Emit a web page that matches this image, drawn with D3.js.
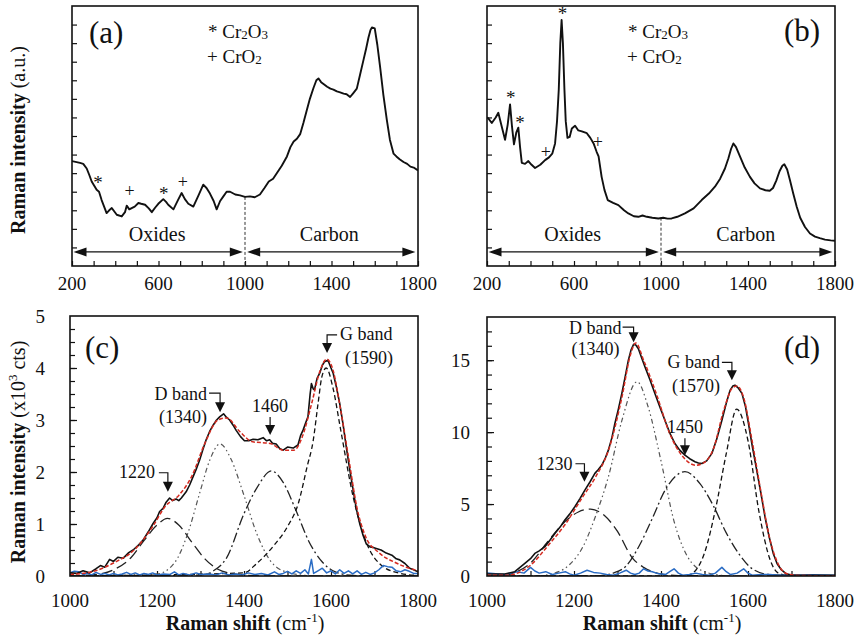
<!DOCTYPE html>
<html>
<head>
<meta charset="utf-8">
<script src="https://cdn.jsdelivr.net/npm/d3@7"></script>
<style>
  body { margin: 0; background: #fff; }
  svg text { font-family: 'Liberation Serif', 'Times New Roman', serif; fill: #111; }
</style>
</head>
<body>
<svg id="chart" width="855" height="639"></svg>
<script>
// ---- data ----
// (a) full spectrum, arbitrary units
const spectrumA = [[200,5.65],[237,5.55],[252,5.5],[268,5.25],[280,4.9],[291,4.55],[314,4.1],[325,4.0],[337,3.55],[360,2.85],[372,3.0],[384,3.12],[395,2.95],[407,2.76],[430,2.67],[445,2.9],[453,3.25],[465,3.05],[476,3.12],[490,3.2],[507,3.39],[520,3.35],[538,3.3],[555,3.1],[569,2.9],[585,3.15],[599,3.35],[622,3.6],[635,3.45],[645,3.3],[669,3.05],[690,3.55],[707,3.93],[722,3.6],[738,3.35],[761,3.2],[785,3.8],[807,4.38],[822,4.2],[838,3.9],[855,3.5],[869,3.05],[885,3.5],[900,3.75],[915,4.0],[931,4.0],[955,3.85],[977,3.8],[1000,3.72],[1023,3.75],[1045,3.7],[1069,3.85],[1090,4.2],[1110,4.55],[1130,4.7],[1150,5.05],[1170,5.4],[1194,5.9],[1210,6.4],[1225,6.7],[1240,6.85],[1255,7.1],[1270,7.7],[1286,8.4],[1300,9.0],[1317,9.6],[1330,10.0],[1340,10.1],[1352,9.9],[1363,9.8],[1380,9.65],[1395,9.55],[1409,9.5],[1425,9.4],[1440,9.35],[1456,9.28],[1470,9.25],[1486,9.1],[1500,9.3],[1517,9.55],[1532,10.3],[1548,11.1],[1560,11.7],[1571,12.3],[1580,12.7],[1587,12.85],[1600,12.8],[1612,11.9],[1625,10.7],[1640,9.2],[1656,7.85],[1670,6.8],[1687,6.05],[1700,5.9],[1715,5.75],[1733,5.6],[1750,5.5],[1765,5.35],[1780,5.3],[1800,5.15]]
// (b) full spectrum, arbitrary units
const spectrumB = [[200,8.0],[206,7.95],[222,7.7],[240,8.0],[252,8.25],[268,7.5],[283,6.8],[295,7.6],[306,8.7],[315,7.5],[324,6.55],[335,7.2],[344,7.45],[352,6.4],[360,5.55],[375,5.5],[390,5.65],[405,5.45],[421,5.28],[445,5.45],[467,5.7],[485,5.85],[500,6.05],[513,6.6],[522,7.8],[530,9.5],[537,12.0],[543,13.25],[549,12.0],[556,9.5],[562,7.8],[570,6.9],[580,6.95],[590,7.4],[605,7.55],[620,7.3],[636,7.25],[659,7.15],[675,6.9],[690,6.6],[704,6.15],[713,5.9],[727,4.8],[740,4.1],[755,3.55],[780,3.4],[804,3.28],[830,3.0],[850,2.83],[875,2.68],[896,2.65],[915,2.72],[935,2.65],[960,2.6],[988,2.56],[1010,2.6],[1030,2.55],[1049,2.56],[1075,2.65],[1110,2.83],[1150,3.1],[1187,3.55],[1220,3.9],[1248,4.27],[1272,4.7],[1294,5.25],[1310,5.8],[1322,6.3],[1333,6.6],[1345,6.4],[1364,5.88],[1385,5.3],[1409,4.8],[1430,4.45],[1455,4.18],[1480,4.08],[1500,4.05],[1515,4.2],[1530,4.6],[1545,5.1],[1558,5.4],[1567,5.48],[1580,5.2],[1593,4.62],[1608,3.9],[1624,3.19],[1640,2.6],[1662,2.1],[1685,1.75],[1708,1.58],[1730,1.5],[1754,1.42],[1780,1.38],[1800,1.36]]

// peak markers: [x, y, symbol]
const markersA = [[320,4.62,'*'],[466,4.05,'+'],[624,4.05,'*'],[712,4.55,'+']]
const markersB = [[547,13.75,'*'],[309,9.2,'*'],[352,7.84,'*'],[470,6.12,'+'],[709,6.66,'+']]

// (c) measured, fit and components (x10^3 cts)
const measuredC = [[1000,0.06],[1015,0.05],[1030,0.1],[1045,0.06],[1060,0.14],[1070,0.2],[1080,0.17],[1091,0.32],[1100,0.28],[1110,0.36],[1122,0.34],[1135,0.45],[1145,0.5],[1158,0.6],[1168,0.69],[1180,0.85],[1191,1.01],[1200,1.12],[1206,1.24],[1214,1.3],[1221,1.42],[1229,1.5],[1236,1.45],[1244,1.48],[1250,1.45],[1256,1.5],[1267,1.62],[1275,1.75],[1283,1.91],[1290,2.05],[1298,2.23],[1305,2.42],[1313,2.62],[1321,2.78],[1329,2.9],[1337,3.0],[1344,3.06],[1353,3.12],[1360,3.05],[1367,3.0],[1375,2.9],[1382,2.8],[1392,2.68],[1401,2.6],[1411,2.6],[1421,2.63],[1432,2.62],[1444,2.66],[1452,2.6],[1459,2.62],[1466,2.55],[1474,2.54],[1482,2.45],[1490,2.42],[1500,2.48],[1513,2.46],[1524,2.52],[1530,2.7],[1536,2.81],[1542,2.95],[1547,3.06],[1552,3.5],[1555,3.7],[1559,3.6],[1562,3.58],[1568,3.8],[1574,3.9],[1580,4.05],[1585,4.12],[1593,4.15],[1600,4.0],[1605,3.9],[1612,3.65],[1620,3.32],[1628,2.9],[1635,2.49],[1643,2.05],[1651,1.65],[1658,1.3],[1666,1.01],[1673,0.8],[1681,0.62],[1690,0.56],[1697,0.55],[1704,0.53],[1715,0.5],[1727,0.44],[1740,0.4],[1750,0.33],[1758,0.31],[1770,0.24],[1781,0.15],[1790,0.12],[1800,0.08]]
const fitC = [[1000,0.03],[1050,0.08],[1100,0.25],[1150,0.52],[1190,0.95],[1220,1.35],[1250,1.55],[1280,1.92],[1310,2.55],[1340,3.0],[1360,3.04],[1390,2.78],[1420,2.58],[1460,2.55],[1490,2.42],[1515,2.42],[1535,2.7],[1555,3.3],[1575,3.95],[1590,4.17],[1605,3.95],[1620,3.3],[1640,2.3],[1660,1.3],[1680,0.75],[1710,0.45],[1750,0.25],[1800,0.1]]
const peakC1220 = [[1000,0.0],[1050,0.02],[1100,0.12],[1140,0.35],[1170,0.68],[1200,0.98],[1224,1.11],[1250,0.98],[1280,0.65],[1310,0.33],[1340,0.13],[1370,0.05],[1400,0.02],[1450,0.0],[1800,0.0]]
const peakC1340 = [[1000,0.0],[1200,0.04],[1240,0.25],[1270,0.8],[1300,1.65],[1320,2.2],[1345,2.54],[1370,2.25],[1400,1.55],[1430,0.8],[1460,0.3],[1500,0.07],[1550,0.01],[1800,0.0]]
const peakC1460 = [[1000,0.0],[1300,0.02],[1330,0.1],[1360,0.35],[1400,1.2],[1430,1.7],[1463,2.02],[1490,1.8],[1520,1.25],[1550,0.65],[1580,0.27],[1610,0.08],[1650,0.01],[1800,0.0]]
const peakC1590 = [[1000,0.0],[1400,0.06],[1429,0.24],[1470,0.6],[1500,0.95],[1525,1.4],[1545,2.1],[1559,2.6],[1570,3.3],[1579,3.83],[1589,4.0],[1605,3.6],[1621,2.87],[1651,1.52],[1682,0.63],[1720,0.18],[1760,0.05],[1800,0.01]]
const residualC = [[1000,0.06],[1010,0.09],[1020,0.08],[1030,0.03],[1040,0.05],[1050,0.02],[1060,0.07],[1070,0.03],[1080,0.05],[1090,0.02],[1100,0.05],[1110,0.02],[1120,0.04],[1130,0.07],[1140,0.03],[1150,0.06],[1160,0.02],[1170,0.05],[1180,0.03],[1190,0.06],[1200,0.02],[1215,0.04],[1230,0.03],[1240,0.08],[1250,0.02],[1260,0.05],[1275,0.02],[1290,0.06],[1300,0.03],[1320,0.04],[1335,0.02],[1350,0.06],[1365,0.02],[1380,0.04],[1395,0.02],[1410,0.06],[1425,0.03],[1440,0.05],[1455,0.02],[1470,0.08],[1480,0.03],[1490,0.05],[1500,0.09],[1510,0.04],[1520,0.1],[1530,0.05],[1540,0.12],[1548,0.04],[1555,0.32],[1560,0.05],[1570,0.1],[1580,0.15],[1590,0.06],[1600,0.1],[1610,0.04],[1620,0.12],[1630,0.05],[1640,0.1],[1650,0.04],[1660,0.1],[1670,0.03],[1680,0.07],[1690,0.03],[1700,0.06],[1710,0.12],[1720,0.2],[1730,0.18],[1740,0.17],[1750,0.1],[1760,0.08],[1770,0.12],[1780,0.09],[1790,0.05],[1800,0.05]]

// (d) measured, fit and components (x10^3 cts)
const measuredD = [[1000,0.14],[1041,0.14],[1064,0.3],[1087,0.88],[1100,1.2],[1110,1.57],[1120,1.75],[1133,2.04],[1145,2.5],[1156,2.96],[1168,3.4],[1179,3.89],[1190,4.3],[1202,4.81],[1214,5.4],[1225,5.97],[1237,6.55],[1248,7.13],[1256,7.4],[1264,7.71],[1272,8.2],[1279,8.75],[1287,9.6],[1294,10.6],[1302,11.6],[1310,12.69],[1318,13.9],[1325,15.0],[1331,15.7],[1337,16.1],[1342,16.05],[1348,15.8],[1355,15.2],[1363,14.54],[1375,13.6],[1386,12.69],[1398,11.7],[1409,10.83],[1420,9.95],[1432,9.21],[1443,8.75],[1455,8.4],[1466,8.15],[1478,7.94],[1486,7.85],[1494,7.82],[1505,8.0],[1517,8.52],[1528,9.5],[1540,10.83],[1550,12.0],[1559,12.92],[1565,13.2],[1570,13.26],[1578,13.05],[1586,12.69],[1594,11.8],[1601,10.6],[1610,9.0],[1620,7.36],[1630,5.7],[1639,4.12],[1648,2.8],[1658,1.57],[1667,0.85],[1677,0.42],[1688,0.15],[1700,0.07],[1750,0.05],[1800,0.05]]
const fitD = [[1000,0.05],[1050,0.06],[1070,0.2],[1100,0.75],[1140,2.1],[1180,3.6],[1220,5.5],[1250,6.9],[1280,8.8],[1310,12.4],[1330,15.4],[1342,16.2],[1360,15.0],[1390,12.6],[1420,9.9],[1450,8.3],[1480,7.7],[1500,7.9],[1520,8.8],[1545,11.6],[1565,13.1],[1575,13.2],[1590,12.4],[1610,9.3],[1630,5.8],[1650,2.6],[1670,0.8],[1690,0.15],[1720,0.03],[1800,0.02]]
const peakD1230 = [[1000,0.0],[1040,0.02],[1060,0.2],[1100,0.9],[1140,2.4],[1180,3.8],[1210,4.45],[1238,4.65],[1270,4.2],[1300,3.1],[1333,1.3],[1360,0.6],[1400,0.15],[1440,0.03],[1800,0.0]]
const peakD1340 = [[1000,0.0],[1120,0.02],[1150,0.15],[1190,0.8],[1220,2.0],[1250,4.2],[1280,7.0],[1310,10.8],[1345,13.5],[1370,11.8],[1400,8.0],[1430,3.8],[1460,1.4],[1500,0.3],[1550,0.03],[1800,0.0]]
const peakD1450 = [[1000,0.0],[1260,0.03],[1290,0.2],[1320,0.7],[1350,2.1],[1380,4.0],[1410,6.0],[1455,7.25],[1490,6.4],[1520,4.9],[1550,3.0],[1580,1.5],[1610,0.5],[1650,0.1],[1800,0.0]]
const peakD1570 = [[1000,0.0],[1440,0.01],[1460,0.05],[1480,0.4],[1500,1.6],[1525,4.6],[1550,8.5],[1574,11.6],[1600,9.4],[1625,4.5],[1650,1.2],[1670,0.2],[1700,0.02],[1800,0.0]]
const residualD = [[1000,0.2],[1020,0.15],[1040,0.1],[1055,0.2],[1070,0.3],[1085,0.2],[1100,0.6],[1110,0.35],[1120,0.2],[1135,0.3],[1150,0.1],[1165,0.2],[1180,0.3],[1190,0.15],[1200,0.05],[1215,0.2],[1230,0.4],[1245,0.25],[1260,0.2],[1275,0.1],[1290,0.05],[1305,0.2],[1320,0.4],[1330,0.2],[1340,0.1],[1350,0.2],[1360,0.5],[1370,0.35],[1380,0.3],[1395,0.15],[1410,0.1],[1420,0.3],[1430,0.5],[1440,0.2],[1450,0.05],[1465,0.1],[1480,0.2],[1495,0.1],[1510,0.05],[1525,0.2],[1540,0.6],[1550,0.3],[1560,0.1],[1575,0.2],[1590,0.5],[1600,0.2],[1610,0.05],[1630,0.1],[1650,0.1],[1670,0.05],[1700,0.05],[1750,0.08],[1800,0.05]]

// axis ticks
const topXLabels = [200, 600, 1000, 1400, 1800]
const bottomXLabels = [1000, 1200, 1400, 1600, 1800]
const yLabelsC = [0, 1, 2, 3, 4, 5]
const yLabelsD = [0, 5, 10, 15]

// region arrows and dividing line
const oxidesRange = [207, 990]
const carbonRange = [1010, 1788]
const boundary = 1000

const svg = d3.select('#chart')

function makePanel(cfg) {
  const x = d3.scaleLinear().domain(cfg.xDomain).range([cfg.left, cfg.right])
  const y = d3.scaleLinear().domain(cfg.yDomain).range([cfg.bottom, cfg.top])
  const g = svg.append('g')

  const clipId = 'clip-' + cfg.id
  g.append('clipPath').attr('id', clipId)
    .append('rect')
    .attr('x', cfg.left).attr('y', cfg.top)
    .attr('width', cfg.right - cfg.left).attr('height', cfg.bottom - cfg.top)

  // inner ticks
  g.append('g')
    .attr('transform', `translate(0,${cfg.bottom})`)
    .call(d3.axisBottom(x).tickValues(cfg.xTicks).tickSize(-5).tickFormat(''))
    .call(a => a.select('.domain').remove())
  g.append('g')
    .attr('transform', `translate(${cfg.left},0)`)
    .call(d3.axisLeft(y).tickValues(cfg.yTicks).tickSize(-5).tickFormat(''))
    .call(a => a.select('.domain').remove())
  if (cfg.yMajor) {
    g.append('g')
      .attr('transform', `translate(${cfg.left},0)`)
      .call(d3.axisLeft(y).tickValues(cfg.yMajor).tickSize(-7).tickFormat(''))
      .call(a => a.select('.domain').remove())
  }
  g.selectAll('.tick line').attr('stroke', '#111').attr('stroke-width', 1.2)

  // tick labels
  g.append('g').selectAll('text')
    .data(cfg.xLabels).join('text')
    .attr('x', d => x(d)).attr('y', cfg.bottom + cfg.xLabelGap)
    .attr('text-anchor', 'middle').attr('font-size', 19)
    .text(d => d)
  if (cfg.yLabels) {
    g.append('g').selectAll('text')
      .data(cfg.yLabels).join('text')
      .attr('x', cfg.left - cfg.yLabelGap).attr('y', d => y(d))
      .attr('dy', '0.35em')
      .attr('text-anchor', 'end').attr('font-size', 19)
      .text(d => d)
  }

  const plot = g.append('g').attr('clip-path', `url(#${clipId})`)

  // frame
  g.append('rect')
    .attr('x', cfg.left).attr('y', cfg.top)
    .attr('width', cfg.right - cfg.left).attr('height', cfg.bottom - cfg.top)
    .attr('fill', 'none').attr('stroke', '#111').attr('stroke-width', 1.6)

  // panel letter
  g.append('text')
    .attr('x', cfg.letterPos[0]).attr('y', cfg.letterPos[1])
    .attr('font-size', 31).text(cfg.letter)

  return { x, y, g, plot }
}

function drawLine(p, data, style) {
  const line = d3.line().x(d => p.x(d[0])).y(d => p.y(d[1]))
    .curve(style.smooth ? d3.curveMonotoneX : d3.curveLinear)
  p.plot.append('path')
    .datum(data)
    .attr('d', line)
    .attr('fill', 'none')
    .attr('stroke', style.color)
    .attr('stroke-width', style.width)
    .attr('stroke-dasharray', style.dash || null)
    .attr('stroke-linejoin', 'round')
}

function arrowHead(g, tipX, tipY, dir) {
  // filled triangle; dir = 'down' | 'left' | 'right'
  let pts
  if (dir === 'down') pts = [[tipX, tipY], [tipX - 5, tipY - 10], [tipX + 5, tipY - 10]]
  if (dir === 'left') pts = [[tipX, tipY], [tipX + 13, tipY - 4.5], [tipX + 13, tipY + 4.5]]
  if (dir === 'right') pts = [[tipX, tipY], [tipX - 13, tipY - 4.5], [tipX - 13, tipY + 4.5]]
  g.append('path').attr('d', 'M' + pts.join('L') + 'Z').attr('fill', '#111')
}

// ---- top panels ----
function legendCr(g, x, y) {
  const t1 = g.append('text').attr('x', x).attr('y', y).attr('font-size', 19)
  t1.append('tspan').text('* Cr')
  t1.append('tspan').attr('font-size', 13).attr('dy', 1).text('2')
  t1.append('tspan').attr('dy', -1).text('O')
  t1.append('tspan').attr('font-size', 13).attr('dy', 1).text('3')
  const t2 = g.append('text').attr('x', x - 1).attr('y', y + 25).attr('font-size', 19)
  t2.append('tspan').text('+ CrO')
  t2.append('tspan').attr('font-size', 13).attr('dy', 1).text('2')
}

function topPanel(cfg, spectrum, markers) {
  const p = makePanel(Object.assign({
    xDomain: [200, 1800], yDomain: [0, 14], top: 6, bottom: 266,
    xTicks: d3.range(200, 1801, 100), yTicks: d3.range(1, 14, 1),
    xLabels: topXLabels, xLabelGap: 24
  }, cfg))

  // dividing line at 1000
  const yAt = spectrum.find(d => d[0] >= boundary)[1]
  p.plot.append('line')
    .attr('x1', p.x(boundary)).attr('x2', p.x(boundary))
    .attr('y1', p.y(yAt)).attr('y2', p.y(0))
    .attr('stroke', '#333').attr('stroke-width', 1).attr('stroke-dasharray', '3,2')

  drawLine(p, spectrum, { color: '#111', width: 1.9 })

  // region arrows
  const ay = p.y(0.76)
  ;[oxidesRange, carbonRange].forEach(r => {
    p.g.append('line')
      .attr('x1', p.x(r[0]) + 6).attr('x2', p.x(r[1]) - 6)
      .attr('y1', ay).attr('y2', ay)
      .attr('stroke', '#111').attr('stroke-width', 1.3)
    arrowHead(p.g, p.x(r[0]), ay, 'left')
    arrowHead(p.g, p.x(r[1]), ay, 'right')
  })
  p.g.append('text').attr('x', p.x((oxidesRange[0] + oxidesRange[1]) / 2) - 1).attr('y', ay - 11)
    .attr('text-anchor', 'middle').attr('font-size', 20).text('Oxides')
  p.g.append('text').attr('x', p.x((carbonRange[0] + carbonRange[1]) / 2) - 2).attr('y', ay - 11)
    .attr('text-anchor', 'middle').attr('font-size', 20).text('Carbon')

  // peak markers
  p.g.append('g').selectAll('text')
    .data(markers).join('text')
    .attr('x', d => p.x(d[0])).attr('y', d => p.y(d[1]) + (d[2] === '*' ? 9 : 6))
    .attr('text-anchor', 'middle')
    .attr('font-size', d => d[2] === '*' ? 19 : 18)
    .text(d => d[2])

  legendCr(p.g, cfg.legendX, 38)
  return p
}

topPanel({ id: 'a', left: 72, right: 418, letter: '(a)', letterPos: [89, 43], legendX: 208 }, spectrumA, markersA)
topPanel({ id: 'b', left: 487, right: 835, letter: '(b)', letterPos: [784, 41], legendX: 628 }, spectrumB, markersB)

// ---- bottom panels ----
const styles = {
  measured: { color: '#111', width: 1.6 },
  fit: { color: '#d42a20', width: 1.5, dash: '4,2', smooth: true },
  residual: { color: '#2a6cc4', width: 1.5 },
  p1: { color: '#222', width: 1.3, dash: '11,5', smooth: true },
  p2: { color: '#555', width: 1.2, dash: '5,3,1.5,3,1.5,3', smooth: true },
  p3: { color: '#222', width: 1.3, dash: '10,3,2,3', smooth: true },
  p4: { color: '#111', width: 1.3, dash: '5,3', smooth: true }
}

function bracketLabel(p, tipX, tipY, side, lines, opts) {
  // arrow pointing down onto a peak with an L-shaped lead to the label
  const g = p.g
  const tx = p.x(tipX), ty = p.y(tipY)
  const by = ty - opts.rise
  const hx = side === 'left' ? tx - opts.hook : tx + opts.hook
  g.append('path')
    .attr('d', `M${hx},${by}L${tx},${by}L${tx},${ty - 8}`)
    .attr('fill', 'none').attr('stroke', '#111').attr('stroke-width', 1.2)
  arrowHead(g, tx, ty, 'down')
  lines.forEach((s, i) => {
    g.append('text')
      .attr('x', tx + opts.dx[i])
      .attr('y', ty + opts.dy[i])
      .attr('text-anchor', side === 'left' ? 'end' : 'start')
      .attr('font-size', 18).text(s)
  })
}

function straightLabel(p, tipX, tipY, label, rise) {
  const tx = p.x(tipX), ty = p.y(tipY)
  p.g.append('line').attr('x1', tx).attr('x2', tx).attr('y1', ty - rise + 4).attr('y2', ty - 8)
    .attr('stroke', '#111').attr('stroke-width', 1.2)
  arrowHead(p.g, tx, ty, 'down')
  p.g.append('text').attr('x', tx).attr('y', ty - rise - 1)
    .attr('text-anchor', 'middle').attr('font-size', 18).text(label)
}

function bottomPanel(cfg, set) {
  const p = makePanel(Object.assign({
    xDomain: [1000, 1800], bottom: 576,
    xTicks: d3.range(1100, 1800, 100),
    xLabels: bottomXLabels, xLabelGap: 31
  }, cfg))
  drawLine(p, set.p1, styles.p1)
  drawLine(p, set.p2, styles.p2)
  drawLine(p, set.p3, styles.p3)
  drawLine(p, set.p4, styles.p4)
  drawLine(p, set.residual, styles.residual)
  drawLine(p, set.measured, styles.measured)
  drawLine(p, set.fit, styles.fit)

  // x axis title
  const t = p.g.append('text')
    .attr('x', (cfg.left + cfg.right) / 2 + cfg.titleShift).attr('y', 630)
    .attr('text-anchor', 'middle').attr('font-size', 20)
  t.append('tspan').attr('font-weight', 'bold').text('Raman shift ')
  t.append('tspan').text('(cm')
  t.append('tspan').attr('font-size', 13).attr('dy', -8).text('-1')
  t.append('tspan').attr('dy', 8).text(')')
  return p
}

const pc = bottomPanel({
  id: 'c', left: 70, right: 418, top: 316, yDomain: [0, 5],
  yTicks: d3.range(0.25, 5, 0.25), yMajor: d3.range(1, 5, 1),
  yLabels: yLabelsC, yLabelGap: 25, letter: '(c)', letterPos: [85, 358], titleShift: 1
}, { measured: measuredC, fit: fitC, residual: residualC, p1: peakC1220, p2: peakC1340, p3: peakC1460, p4: peakC1590 })

bracketLabel(pc, 1345, 3.15, 'left', ['D band', '(1340)'], { rise: 19, hook: 11, dx: [-13, -13], dy: [-12, 11] })
bracketLabel(pc, 1225, 1.62, 'left', ['1220'], { rise: 19, hook: 9, dx: [-13], dy: [-14] })
straightLabel(pc, 1460, 2.71, '1460', 22)
bracketLabel(pc, 1591, 4.29, 'right', ['G band', '(1590)'], { rise: 18, hook: 10, dx: [13, 18], dy: [-13, 11] })

const pd = bottomPanel({
  id: 'd', left: 487, right: 835, top: 317, yDomain: [0, 18],
  yTicks: d3.range(1, 18, 1), yMajor: [5, 10, 15],
  yLabels: yLabelsD, yLabelGap: 17, letter: '(d)', letterPos: [784, 358], titleShift: 1
}, { measured: measuredD, fit: fitD, residual: residualD, p1: peakD1230, p2: peakD1340, p3: peakD1450, p4: peakD1570 })

bracketLabel(pd, 1337, 16.25, 'left', ['D band', '(1340)'], { rise: 15, hook: 11, dx: [-12, -14], dy: [-8, 13] })
bracketLabel(pd, 1563, 13.6, 'left', ['G band', '(1570)'], { rise: 18, hook: 10, dx: [-12, -12], dy: [-12, 12] })
bracketLabel(pd, 1224, 6.55, 'left', ['1230'], { rise: 18, hook: 9, dx: [-12], dy: [-12] })
straightLabel(pd, 1455, 8.4, '1450', 21)

// ---- y axis titles ----
const yt1 = svg.append('text')
  .attr('transform', 'translate(25,140) rotate(-90)')
  .attr('text-anchor', 'middle').attr('font-size', 20)
yt1.append('tspan').attr('font-weight', 'bold').text('Raman intensity ')
yt1.append('tspan').text('(a.u.)')

const yt2 = svg.append('text')
  .attr('transform', 'translate(25,452) rotate(-90)')
  .attr('text-anchor', 'middle').attr('font-size', 20)
yt2.append('tspan').attr('font-weight', 'bold').text('Raman intensity ')
yt2.append('tspan').text('(x10')
yt2.append('tspan').attr('font-size', 13).attr('dy', -8).text('3')
yt2.append('tspan').attr('dy', 8).text(' cts)')
</script>
</body>
</html>
